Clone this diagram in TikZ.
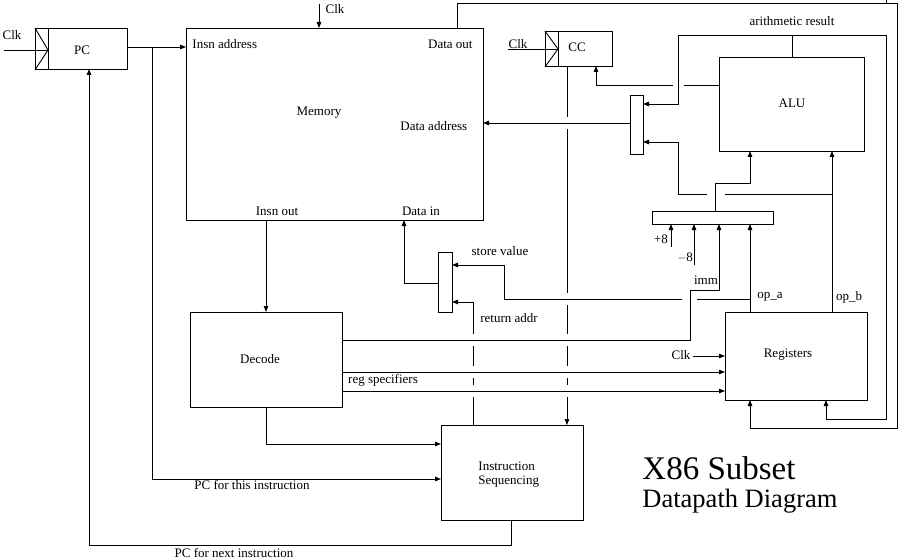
\documentclass[tikz,border=0pt]{standalone}
\usepackage{fontspec}
\setmainfont{Liberation Serif}
\usetikzlibrary{arrows.meta}
\begin{document}
\begin{tikzpicture}[x=1pt,y=-1pt,
  line width=0.9pt,
  box/.style={draw, rectangle, inner sep=0pt, anchor=north west},
  arr/.style={-{Triangle[length=6pt,width=4.5pt]}},
  lbl/.style={inner sep=0pt, font=\fontsize{13}{15}\selectfont},
]
\useasboundingbox (0,0) rectangle (900,559);

% ---------- boxes ----------
\node[box,minimum width=92pt,minimum height=41pt]  (pc)   at (35,28)  {};
\node[box,minimum width=297pt,minimum height=192pt] (mem) at (186,28) {};
\node[box,minimum width=67pt,minimum height=35pt]  (cc)   at (545,31) {};
\node[box,minimum width=145pt,minimum height=94pt] (alu)  at (719,57) {};
\node[box,minimum width=13pt,minimum height=59pt]  (muxa) at (630,95) {};
\node[box,minimum width=121pt,minimum height=13pt] (muxb) at (652,211) {};
\node[box,minimum width=14pt,minimum height=60pt]  (muxc) at (438,252) {};
\node[box,minimum width=142pt,minimum height=88pt] (regs) at (725,312) {};
\node[box,minimum width=152pt,minimum height=95pt] (dec)  at (190,312) {};
\node[box,minimum width=142pt,minimum height=95pt] (iseq) at (441,425) {};

% clock marks
\draw (pc.north west) -- (48,50) -- (pc.south west);
\draw (48,28) -- (48,69);
\draw (cc.north west) -- (558,49) -- (cc.south west);
\draw (558,31) -- (558,66);

% ---------- labels ----------
\node[lbl] (lpc) at (82,50) {PC};
\node[lbl] (lpcclk) at (12,35) {Clk};
\node[lbl,anchor=west] (lia) at (192,44) {Insn address};
\node[lbl,anchor=east] (ldo) at (473,44) {Data out};
\node[lbl] (lmem) at (319,113) {Memory};
\node[lbl,anchor=west] (lda) at (400,126) {Data address};
\node[lbl] (lio) at (277,211) {Insn out};
\node[lbl] (ldi) at (421,211) {Data in};
\node[lbl] (lmclk) at (335,9) {Clk};
\node[lbl] (lccclk) at (518,44) {Clk};
\node[lbl] (lcc) at (577,47) {CC};
\node[lbl] (lalu) at (792,103) {ALU};
\node[lbl] (lar) at (792,21) {arithmetic result};
\node[lbl] (lp8) at (661,239) {+8};
\node[lbl] (lm8) at (685,258) {$-$8};
\node[lbl] (limm) at (706,280) {imm};
\node[lbl] (lopa) at (770,297) {op\_a};
\node[lbl] (lopb) at (849,297) {op\_b};
\node[lbl] (lrclk) at (681,355) {Clk};
\node[lbl] (lregs) at (788,355) {Registers};
\node[lbl] (lsv) at (500,251) {store value};
\node[lbl] (lra) at (509,318) {return addr};
\node[lbl] (ldec) at (260,359) {Decode};
\node[lbl] (lrs) at (383,380) {reg specifiers};
\node[lbl] (lpct) at (252,485) {PC for this instruction};
\node[lbl] (lpcn) at (234,553) {PC for next instruction};
\node[lbl,anchor=west] (lis1) at (478,466) {Instruction};
\node[lbl,anchor=west] (lis2) at (478,482) {Sequencing};
\node[inner sep=0pt,anchor=base west,font=\fontsize{33}{35}\selectfont] (t1) at (642,479) {X86 Subset};
\node[inner sep=0pt,anchor=base west,font=\fontsize{26.5}{28}\selectfont] (t2) at (642,507) {Datapath Diagram};

% ---------- connectors ----------
% clocks
\coordinate (pcclkin) at (4,50);
\draw (pcclkin) -- (48,50);
\coordinate (ccclkin) at (508,49);
\draw (ccclkin) -- (558,49);
\coordinate (memclkin) at (319,4);
\draw[arr] (memclkin) -- (mem.north -| memclkin);
\coordinate (regclkin) at (693,356);
\draw[arr] (regclkin) -- (regs.west |- regclkin);

% PC out
\draw[arr] (127,47) -- (186,47);
\draw[arr] (152,47) -- (152,479) -- (iseq.west |- 0,479);

% PC for next instruction
\draw[arr] (511,520) -- (511,545) -- (89,545) -- (89,69);

% Insn out -> Decode
\draw[arr] (266,220) -- (266,312);
% Decode -> IS
\draw[arr] (266,407) -- (266,444) -- (441,444);

% Decode right outputs
\draw[arr] (342,340) -- (690,340) -- (690,290) -- (719,290) -- (719,224);
\draw[arr] (342,372) -- (725,372);
\draw[arr] (342,391) -- (725,391);

% Data out -> registers
\draw[arr] (457,28) -- (457,3) -- (897,3) -- (897,428) -- (750,428) -- (750,400);
\draw (886,0) -- (886,3);

% arithmetic result
\draw (792,57) -- (792,35);
\draw[arr] (886,35) -- (886,419) -- (826,419) -- (826,400);
\draw[arr] (886,35) -- (678,35) -- (678,104) -- (643,104);

% ALU -> CC
\draw (719,85) -- (684,85);
\draw[arr] (673,85) -- (596,85) -- (596,66);

% mux A out -> Data address
\draw[arr] (630,123) -- (483,123);

% op_b and branch to mux A
\draw[arr] (832,312) -- (832,151);
\draw (832,194) -- (725,194);
\draw[arr] (707,194) -- (678,194) -- (678,142) -- (643,142);

% mux B out -> ALU
\draw[arr] (715,211) -- (715,183) -- (750,183) -- (750,151);

% constants
\draw[arr] (671,247) -- (671,224);
\draw[arr] (694,265) -- (694,224);

% op_a and store value
\draw[arr] (750,312) -- (750,224);
\draw (750,299) -- (697,299);
\draw[arr] (682,299) -- (504,299) -- (504,265) -- (452,265);

% mux C out -> Data in
\draw[arr] (438,283) -- (404,283) -- (404,220);

% return addr
\draw (473,425) -- (473,397);
\draw (473,385) -- (473,378);
\draw (473,366) -- (473,346);
\draw[arr] (473,334) -- (473,302) -- (452,302);

% CC -> IS
\draw (567,66) -- (567,117);
\draw (567,129) -- (567,293);
\draw (567,305) -- (567,334);
\draw (567,346) -- (567,366);
\draw (567,378) -- (567,385);
\draw[arr] (567,397) -- (567,425);
\end{tikzpicture}
\end{document}
